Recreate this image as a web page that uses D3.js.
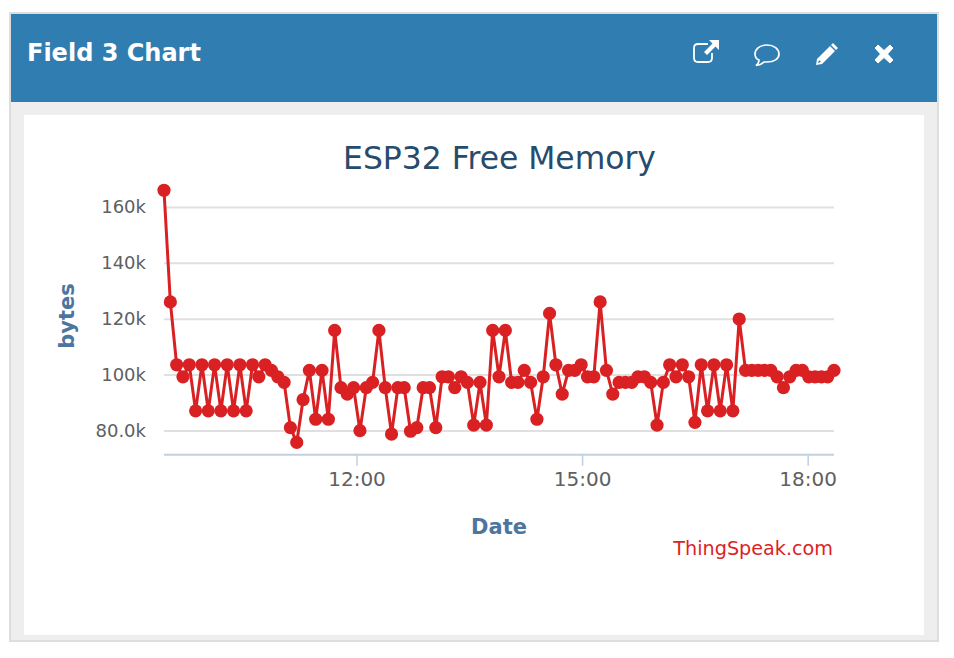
<!DOCTYPE html>
<html>
<head>
<meta charset="utf-8">
<title>Field 3 Chart</title>
<script src="https://cdn.jsdelivr.net/npm/d3@7"></script>
<style>
  html, body { margin: 0; padding: 0; background: #fff; }
  svg { display: block; }
  text { font-family: "DejaVu Sans", sans-serif; }
  .domain { display: none; }
</style>
</head>
<body>
<svg id="chart" width="954" height="658"></svg>
<script>
/////////////////////////////////////////////////////////////////////////////////////
// Data
var times = [
  "09:26:24","09:31:27","09:36:30","09:41:32","09:46:35","09:51:37","09:56:40","10:01:43",
  "10:06:45","10:11:48","10:16:50","10:21:53","10:26:56","10:31:58","10:37:01","10:42:03",
  "10:47:06","10:52:09","10:57:11","11:02:14","11:07:16","11:12:19","11:17:22","11:22:24",
  "11:27:27","11:32:29","11:37:32","11:42:35","11:47:37","11:52:40","11:57:42","12:02:45",
  "12:07:48","12:12:50","12:17:53","12:22:55","12:27:58","12:33:01","12:38:03","12:43:06",
  "12:48:08","12:53:11","12:58:14","13:03:16","13:08:19","13:13:21","13:18:24","13:23:27",
  "13:28:29","13:33:32","13:38:34","13:43:37","13:48:40","13:53:42","13:58:45","14:03:47",
  "14:08:50","14:13:53","14:18:55","14:23:58","14:29:00","14:34:03","14:39:06","14:44:08",
  "14:49:11","14:54:13","14:59:16","15:04:19","15:09:21","15:14:24","15:19:26","15:24:29",
  "15:29:32","15:34:34","15:39:37","15:44:39","15:49:42","15:54:45","15:59:47","16:04:50",
  "16:09:52","16:14:55","16:19:58","16:25:00","16:30:03","16:35:05","16:40:08","16:45:11",
  "16:50:13","16:55:16","17:00:18","17:05:21","17:10:24","17:15:26","17:20:29","17:25:31",
  "17:30:34","17:35:37","17:40:39","17:45:42","17:50:44","17:55:47","18:00:50","18:05:52",
  "18:10:55","18:15:57","18:21:00"
];
var freeMemory = [
  166000,126000,103500,99200,103500,87000,103500,87000,
  103500,87000,103500,87000,103500,87000,103500,99200,
  103500,101500,99200,97200,81000,75700,91000,101500,
  84000,101500,84000,115800,95300,93000,95300,79900,
  95300,97200,115800,95300,78700,95300,95300,79700,
  81000,95300,95300,81000,99200,99200,95300,99200,
  97200,81900,97200,81900,115800,99200,115800,97200,
  97200,101500,97200,84000,99200,121900,103500,93000,
  101500,101500,103500,99200,99200,126000,101500,93000,
  97200,97200,97200,99200,99200,97200,81900,97200,
  103500,99200,103500,99200,82900,103500,87000,103500,
  87000,103500,87000,119900,101500,101500,101500,101500,
  101500,99200,95300,99200,101500,101500,99200,99200,
  99200,99200,101500
];
var yTicks = [80000, 100000, 120000, 140000, 160000];
var yTickLabels = ["80.0k", "100k", "120k", "140k", "160k"];
var xTickLabels = ["12:00", "15:00", "18:00"];

var parseTime = d3.timeParse("%H:%M:%S");
var parseTick = d3.timeParse("%H:%M");
var formatTick = d3.timeFormat("%H:%M");

var dataset = times.map(function(t, i) {
  return { time: parseTime(t), value: freeMemory[i] };
});

/////////////////////////////////////////////////////////////////////////////////////
// Margins
var svg = d3.select("#chart");
var margin = { left: 164, right: 834, top: 207, bottom: 454.7 };

// Scales
var xScale = d3.scaleTime()
  .domain(d3.extent(dataset, function(d) { return d.time; }))
  .range([margin.left, margin.right]);
var yScale = d3.scaleLinear()
  .domain([80000, 160000])
  .range([430.4, margin.top]);

/////////////////////////////////////////////////////////////////////////////////////
// Panel
svg.append("rect").attr("x", 10).attr("y", 13).attr("width", 928).attr("height", 628)
  .style("fill", "#eeeeee").style("stroke", "#dddddd").style("stroke-width", 2);
svg.append("rect").attr("x", 11).attr("y", 14).attr("width", 926).attr("height", 88)
  .style("fill", "#2f7db1");
svg.append("rect").attr("x", 24).attr("y", 115).attr("width", 900).attr("height", 520)
  .style("fill", "#ffffff");

svg.append("text").attr("x", 27).attr("y", 61)
  .style("font-size", "24px").style("font-weight", "bold").style("fill", "#ffffff")
  .text("Field 3 Chart");

// Header icons
var external = svg.append("g").attr("transform", "translate(693,40)");
external.append("path")
  .attr("d", "M15,4H5Q1,4 1,8V18Q1,22 5,22H15Q19,22 19,18V13")
  .style("fill", "none").style("stroke", "#fff").style("stroke-width", 1.8);
external.append("path")
  .attr("d", "M16,0H26V10L22.5,6.5L14,15L11,12L19.5,3.5Z")
  .style("fill", "#fff");

var comment = svg.append("g").attr("transform", "translate(767,55)");
comment.append("path")
  .attr("d", "M0,-10C7,-10 12,-6 12,-1C12,4 7,7 0,7C-1,7 -2,7 -3,7C-5,9 -8,10 -11,10.5C-9,9 -8,7 -8,5C-11,4 -12,1.5 -12,-1C-12,-6 -7,-10 0,-10Z")
  .style("fill", "none").style("stroke", "#fff").style("stroke-width", 1.7);

var pencil = svg.append("g").attr("transform", "translate(816,43)");
pencil.append("path")
  .attr("d", "M17,0L22,5L20,7L15,2ZM14,3L19,8L6,21L0,22L1,16ZM3,17L2,20L5,19Z")
  .style("fill", "#fff").style("fill-rule", "evenodd");

var close = svg.append("g").attr("transform", "translate(884,54)");
close.append("path")
  .attr("d", "M-6,-9L0,-3.5L6,-9L9,-6L3.5,0L9,6L6,9L0,3.5L-6,9L-9,6L-3.5,0L-9,-6Z")
  .style("fill", "#fff").style("stroke", "#fff").style("stroke-linejoin", "round");

/////////////////////////////////////////////////////////////////////////////////////
// Axes
var yAxis = d3.axisLeft(yScale)
  .tickValues(yTicks)
  .tickSize(margin.left - margin.right)
  .tickPadding(18)
  .tickFormat(function(d, i) { return yTickLabels[i]; });
var yGroup = svg.append("g")
  .attr("transform", "translate(" + margin.left + ",0)")
  .call(yAxis);
yGroup.selectAll("line").style("stroke", "#e0e0e0").style("stroke-width", 2);
yGroup.selectAll("text").style("font-size", "18px").style("fill", "#606060");

var xAxis = d3.axisBottom(xScale)
  .tickValues(xTickLabels.map(parseTick).map(function(t) { return new Date(t); }))
  .tickSize(11)
  .tickPadding(6)
  .tickFormat(formatTick);
var xGroup = svg.append("g")
  .attr("transform", "translate(0," + margin.bottom + ")")
  .call(xAxis);
xGroup.selectAll("line").style("stroke", "#c0d0e0").style("stroke-width", 1.5);
xGroup.selectAll("text").style("font-size", "20px").style("fill", "#606060");

svg.append("line")
  .attr("x1", margin.left).attr("x2", margin.right)
  .attr("y1", margin.bottom).attr("y2", margin.bottom)
  .style("stroke", "#c0d0e0").style("stroke-width", 2);

/////////////////////////////////////////////////////////////////////////////////////
// Labels
svg.append("text").attr("x", 499.5).attr("y", 169).attr("text-anchor", "middle")
  .style("font-size", "31.4px").style("fill", "#274b6d")
  .text("ESP32 Free Memory");
svg.append("text").attr("x", 499).attr("y", 534).attr("text-anchor", "middle")
  .style("font-size", "21px").style("font-weight", "bold").style("fill", "#4d759e")
  .text("Date");
svg.append("text").attr("text-anchor", "middle")
  .attr("transform", "translate(74,316) rotate(-90)")
  .style("font-size", "21px").style("font-weight", "bold").style("fill", "#4d759e")
  .text("bytes");
svg.append("text").attr("x", 833).attr("y", 555).attr("text-anchor", "end")
  .style("font-size", "19.2px").style("fill", "#dd1f26")
  .text("ThingSpeak.com");

/////////////////////////////////////////////////////////////////////////////////////
// Plot
var line = d3.line()
  .x(function(d) { return xScale(d.time); })
  .y(function(d) { return yScale(d.value); });

svg.append("path")
  .datum(dataset)
  .attr("d", line)
  .style("fill", "none")
  .style("stroke", "#d92022")
  .style("stroke-width", 3);

svg.selectAll(".memoryDots")
  .data(dataset)
  .enter()
  .append("circle")
  .attr("class", "memoryDots")
  .attr("cx", function(d) { return xScale(d.time); })
  .attr("cy", function(d) { return yScale(d.value); })
  .attr("r", 6.6)
  .style("fill", "#d92022");
</script>
</body>
</html>
